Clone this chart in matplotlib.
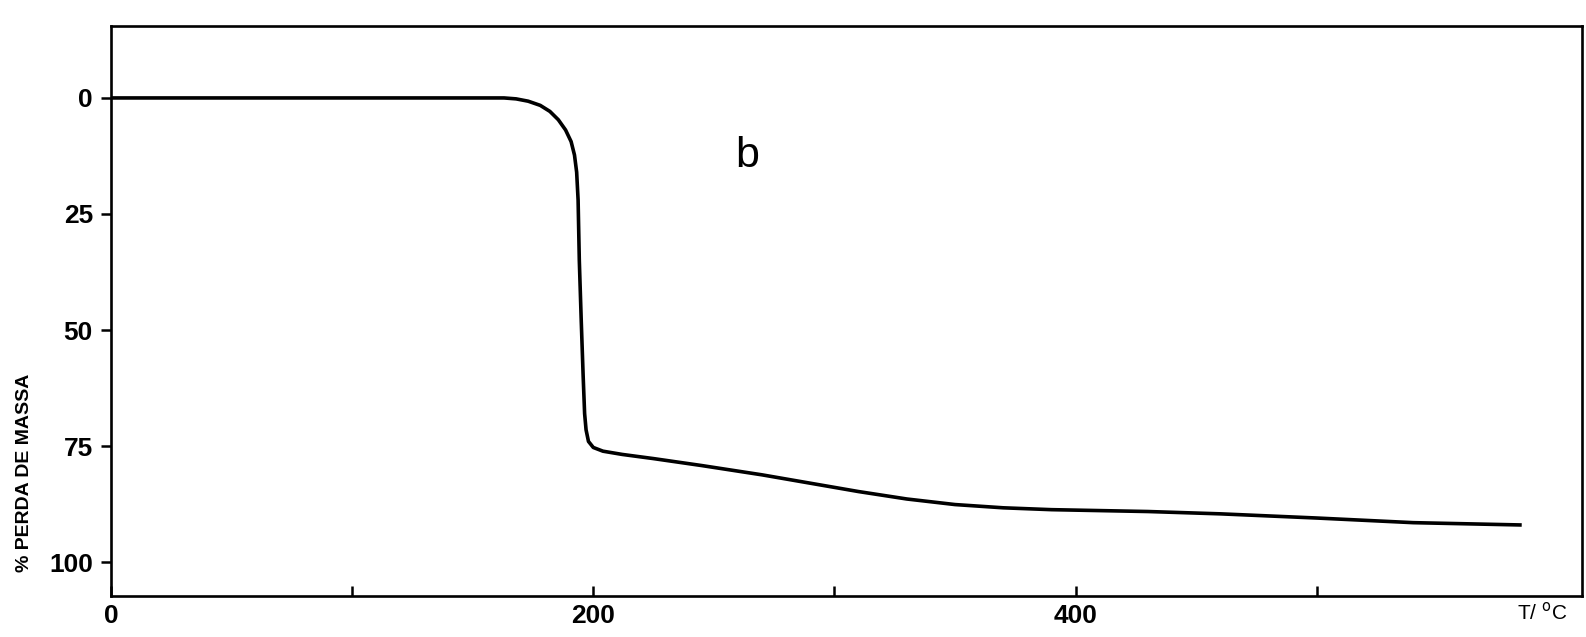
import matplotlib
matplotlib.use("Agg")
from matplotlib import pyplot as plt

temp = [0, 60, 120, 163, 168, 173, 178, 182, 185.5, 188.5, 190.8, 192.2, 193.1, 193.7,
        194.2, 195, 195.8, 196.4, 197, 198, 200, 204, 212, 225, 245, 270, 290,
        310, 330, 350, 370, 390, 410, 430, 460, 500, 540, 585]
perda = [0, 0, 0, 0, 0.2, 0.7, 1.6, 2.9, 4.7, 6.9, 9.4, 12.3, 16, 22,
         35, 48, 60, 68, 71.5, 74, 75.3, 76.1, 76.8, 77.7, 79.2, 81.2, 83,
         84.8, 86.4, 87.6, 88.3, 88.7, 88.9, 89.1, 89.6, 90.5, 91.5, 92]

x_ticks = [0, 100, 200, 300, 400, 500]
x_labels = ["0", "", "200", "", "400", ""]
y_ticks = [0, 25, 50, 75, 100]
y_labels = ["0", "25", "50", "75", "100"]

W, H = 1586, 637
fig = plt.figure(figsize=(W / 100, H / 100), dpi=100)
ax = fig.add_axes([111 / W, 1 - 596 / H, (1582 - 111) / W, (596 - 26) / H])

ax.plot(temp, perda, color="black", lw=2.6, solid_capstyle="butt")

ax.set_xlim(0, 610)
ax.set_ylim(107.3, -15.5)

for s in ax.spines.values():
    s.set_linewidth(1.9)

ax.set_xticks(x_ticks)
ax.set_xticklabels(x_labels, fontsize=19, fontweight="bold", family="Liberation Sans")
ax.set_yticks(y_ticks)
ax.set_yticklabels(y_labels, fontsize=19, fontweight="bold", family="Liberation Sans")
ax.tick_params(axis="x", direction="in", length=7, width=1.8, pad=6)
ax.tick_params(axis="y", direction="out", length=7, width=1.8, pad=6)

ax.text(264, 12.5, "b", fontsize=31, family="Liberation Sans", ha="center", va="center")
fig.text(1542 / W, 1 - 612 / H, "T/ $^{\\mathrm{o}}$C", fontsize=15,
         family="Liberation Sans", ha="center", va="center")
fig.text(25 / W, 1 - 473 / H, "% PERDA DE MASSA", rotation=90, fontsize=14,
         fontweight="bold", family="Liberation Sans", ha="center", va="center")

plt.savefig("out.png", dpi=100)
